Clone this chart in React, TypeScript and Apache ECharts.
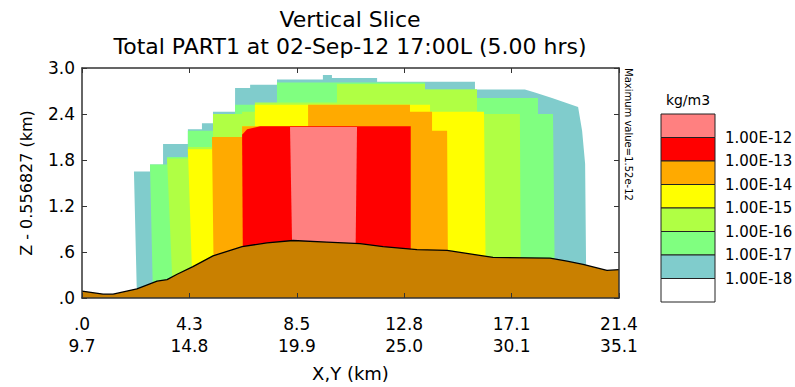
import React, { useEffect, useRef } from "react";
import * as echarts from "echarts";

// ---- axes ----
const X_MAX = 21.4;
const X_STEP = 4.28;
const Z_MAX = 3.0;
const Z_STEP = 0.6;
const xTickDist = [".0", "4.3", "8.5", "12.8", "17.1", "21.4"];
const xTickXY = ["9.7", "14.8", "19.9", "25.0", "30.1", "35.1"];
const zTickLabels = [".0", ".6", "1.2", "1.8", "2.4", "3.0"];

// ---- concentration bands (region >= level), [x km, z km] ----
const band18 = [
  [2.19, 0], [2.07, 1.65], [2.71, 1.65], [2.71, 1.74], [3.23, 1.74], [3.23, 2.01], [4.22, 2.01],
  [4.22, 2.2], [4.78, 2.2], [4.78, 2.28], [5.22, 2.28], [5.22, 2.43], [6.1, 2.43], [6.1, 2.74],
  [6.7, 2.74], [6.7, 2.78], [7.77, 2.78], [7.77, 2.85], [9.6, 2.85], [9.6, 2.91], [9.96, 2.91],
  [9.96, 2.87], [11.76, 2.87], [11.76, 2.82], [15.66, 2.82], [15.66, 2.72], [17.65, 2.72],
  [18.05, 2.68], [18.73, 2.61], [19.25, 2.55], [19.77, 2.49], [19.93, 2.18], [20.05, 1.75], [20.1, 0],
];
const band17 = [
  [2.83, 0], [2.71, 1.74], [3.39, 1.74], [3.39, 1.84], [4.22, 1.84], [4.22, 2.18], [5.22, 2.18],
  [5.22, 2.33], [6.1, 2.33], [6.1, 2.52], [7.77, 2.52], [7.77, 2.81], [13.67, 2.81], [13.67, 2.72],
  [15.74, 2.72], [15.74, 2.61], [18.17, 2.61], [18.17, 2.4], [18.77, 2.4], [18.85, 0],
];
const band16 = [
  [3.63, 0], [3.39, 1.82], [4.22, 1.82], [4.22, 1.97], [5.22, 1.97], [5.22, 2.4], [6.38, 2.4],
  [6.38, 2.43], [6.89, 2.43], [6.89, 2.55], [10.16, 2.55], [10.16, 2.79], [13.67, 2.79],
  [13.67, 2.72], [15.74, 2.72], [15.74, 2.4], [17.45, 2.4], [17.49, 0],
];
const band15 = [
  [4.42, 0], [4.22, 1.94], [5.18, 1.94], [5.18, 2.1], [6.38, 2.1], [6.38, 2.24], [6.89, 2.24],
  [6.89, 2.52], [13.87, 2.52], [13.87, 2.43], [16.02, 2.43], [16.1, 0],
];
const band14 = [
  [5.26, 0], [5.18, 2.1], [6.38, 2.1], [6.38, 2.24], [9.01, 2.24], [9.01, 2.52], [13.07, 2.52],
  [13.07, 2.43], [13.95, 2.43], [13.95, 2.18], [14.55, 2.18], [14.59, 0],
];
const band13 = [
  [6.42, 0], [6.38, 2.13], [6.58, 2.2], [7.1, 2.24], [13.1, 2.24], [13.1, 0],
];
const band12 = [[8.41, 0], [8.29, 2.23], [10.96, 2.23], [10.88, 0]];

const bandPolys = [band18, band17, band16, band15, band14, band13, band12];
const bandColors = ["#80CCCC", "#80FF80", "#B0FF44", "#FFFF00", "#FFAA00", "#FF0000", "#FF8080"];

// ---- terrain ----
const terrainX = [0, 0.84, 1.24, 2.19, 2.99, 3.39, 3.79, 4.42, 5.22, 5.5, 6.38, 7.37, 8.41, 9.76, 11.08, 12.0, 13.35, 14.55, 15.98, 16.38, 18.65, 19.33, 19.97, 20.92, 21.4];
const terrainZ = [0.09, 0.05, 0.05, 0.12, 0.22, 0.24, 0.31, 0.41, 0.55, 0.58, 0.67, 0.72, 0.75, 0.73, 0.71, 0.67, 0.63, 0.62, 0.55, 0.53, 0.52, 0.48, 0.44, 0.36, 0.37];

// ---- legend ----
const legendColors = ["#FF8080", "#FF0000", "#FFAA00", "#FFFF00", "#B0FF44", "#80FF80", "#80CCCC", "#FFFFFF"];
const legendLabels = ["1.00E-12", "1.00E-13", "1.00E-14", "1.00E-15", "1.00E-16", "1.00E-17", "1.00E-18"];

const FONT = "DejaVu Sans";

export default function App() {
  const ref = useRef<HTMLDivElement>(null);
  useEffect(() => {
    if (!ref.current) return;
    const chart = echarts.init(ref.current, null, { renderer: "svg" });
    const LEG_X = 661, LEG_Y = 114, LEG_W = 54, LEG_H = 23.5;
    const frame = { color: "#333", width: 1.5 };
    const tick = { inside: true, length: 5, lineStyle: { color: "#333", width: 1 } };
    chart.setOption({
      animation: false,
      backgroundColor: "#fff",
      grid: { left: 82, top: 68, width: 537, height: 233, containLabel: false },
      xAxis: [
        {
          type: "value", position: "bottom", min: 0, max: X_MAX, interval: X_STEP, z: 5,
          axisLine: { show: true, onZero: false, lineStyle: frame },
          axisTick: tick, splitLine: { show: false },
          axisLabel: {
            formatter: (v: number) => {
              const i = Math.round(v / X_STEP);
              return xTickDist[i] + "\n" + xTickXY[i];
            },
            fontSize: 17, lineHeight: 22, color: "#000", margin: 15, fontFamily: FONT,
            showMinLabel: true, showMaxLabel: true,
          },
          name: "X,Y (km)", nameLocation: "middle", nameGap: 66,
          nameTextStyle: { fontSize: 18, color: "#000", fontFamily: FONT },
        },
        {
          type: "value", position: "top", min: 0, max: X_MAX, interval: X_STEP, z: 5,
          axisLine: { show: true, onZero: false, lineStyle: frame },
          axisTick: tick, axisLabel: { show: false }, splitLine: { show: false },
        },
      ],
      yAxis: [
        {
          type: "value", position: "left", min: 0, max: Z_MAX, interval: Z_STEP, z: 5,
          axisLine: { show: true, onZero: false, lineStyle: frame },
          axisTick: tick, splitLine: { show: false },
          axisLabel: {
            formatter: (v: number) => zTickLabels[Math.round(v / Z_STEP)],
            fontSize: 17, color: "#000", margin: 7, fontFamily: FONT,
          },
          name: "Z - 0.556827 (km)", nameLocation: "middle", nameGap: 48,
          nameTextStyle: { fontSize: 16, color: "#000", fontFamily: FONT },
        },
        {
          type: "value", position: "right", min: 0, max: Z_MAX, interval: Z_STEP, z: 5,
          axisLine: { show: true, onZero: false, lineStyle: frame },
          axisTick: tick, axisLabel: { show: false }, splitLine: { show: false },
        },
      ],
      series: [
        {
          type: "custom",
          coordinateSystem: "cartesian2d",
          xAxisIndex: 0, yAxisIndex: 0,
          clip: true, silent: true, z: 2,
          data: bandPolys.map((_, i) => [i, 0]),
          renderItem: (params: any, api: any) => {
            const idx = api.value(0);
            const pts = bandPolys[idx].map((p) => api.coord(p));
            return { type: "polygon", shape: { points: pts }, style: { fill: bandColors[idx], stroke: null } };
          },
        },
        {
          type: "line", xAxisIndex: 0, yAxisIndex: 0, z: 3, silent: true,
          data: terrainX.map((x, i) => [x, terrainZ[i]]),
          symbol: "none", smooth: false,
          lineStyle: { color: "#000", width: 1.3 },
          areaStyle: { color: "#C98000", opacity: 1 },
        },
      ],
      graphic: [
        { type: "text", x: 350, y: 19, style: { text: "Vertical Slice", fontSize: 22, fontFamily: FONT, fill: "#000", align: "center", verticalAlign: "middle" } },
        { type: "text", x: 350, y: 46, style: { text: "Total PART1 at 02-Sep-12 17:00L (5.00 hrs)", fontSize: 22, fontFamily: FONT, fill: "#000", align: "center", verticalAlign: "middle" } },
        { type: "text", x: 628, y: 68, rotation: -Math.PI / 2, style: { text: "Maximum value=1.52e-12", fontSize: 10, fontFamily: FONT, fill: "#000", align: "left", verticalAlign: "middle" } },
        { type: "text", x: 688, y: 100, style: { text: "kg/m3", fontSize: 14, fontFamily: FONT, fill: "#000", align: "center", verticalAlign: "middle" } },
        ...legendColors.map((c, i) => ({
          type: "rect",
          shape: { x: LEG_X, y: LEG_Y + i * LEG_H, width: LEG_W, height: LEG_H },
          style: { fill: c, stroke: "#222", lineWidth: 1 },
        })),
        ...legendLabels.map((t, i) => ({
          type: "text", x: 725, y: LEG_Y + (i + 1) * LEG_H,
          style: { text: t, fontSize: 15, fontFamily: FONT, fill: "#000", align: "left", verticalAlign: "middle" },
        })),
      ],
    });
    return () => chart.dispose();
  }, []);
  return <div ref={ref} style={{ position: "absolute", left: 0, top: 0, width: 795, height: 387 }} />;
}
